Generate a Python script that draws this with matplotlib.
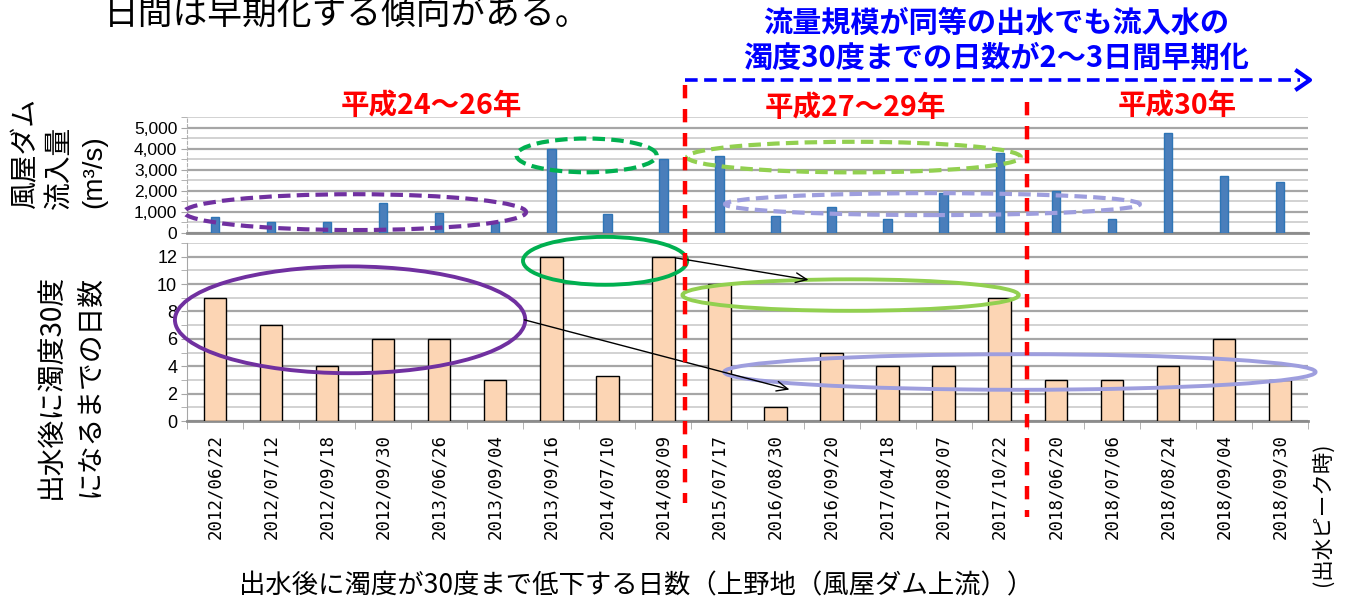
import matplotlib.pyplot as plt
from matplotlib.patches import Ellipse
from matplotlib.transforms import blended_transform_factory
import numpy as np

plt.rcParams['font.family'] = ['Noto Sans CJK JP', 'DejaVu Sans']

# 出水日（出水ピーク時）
dates = ['2012/06/22', '2012/07/12', '2012/09/18', '2012/09/30', '2013/06/26',
         '2013/09/04', '2013/09/16', '2014/07/10', '2014/08/09', '2015/07/17',
         '2016/08/30', '2016/09/20', '2017/04/18', '2017/08/07', '2017/10/22',
         '2018/06/20', '2018/07/06', '2018/08/24', '2018/09/04', '2018/09/30']
# 風屋ダム流入量 (m3/s)
inflow = [770, 520, 520, 1430, 940, 520, 3980, 910, 3490, 3630,
          800, 1250, 670, 1900, 3770, 1970, 670, 4720, 2720, 2400]
# 濁度30度までの日数
days = [9, 7, 4, 6, 6, 3, 12, 3.3, 12, 10, 1, 5, 4, 4, 9, 3, 3, 4, 6, 3]

inflow_ticks = [0, 1000, 2000, 3000, 4000, 5000]
days_ticks = [0, 2, 4, 6, 8, 10, 12]

W, H = 1349, 597
fig = plt.figure(figsize=(W / 100, H / 100), dpi=100)


def px(xp, yp):
    return xp / W, 1 - yp / H


x = np.arange(len(dates))

# 上段：流入量
ax1 = fig.add_axes([0.1386, 0.6097, 0.831, 0.1943])
ax1.bar(x, inflow, width=0.15, color='#4A7EBB', edgecolor='#2E75B6', lw=1, zorder=3)
ax1.set_xlim(-0.5, len(dates) - 0.5)
ax1.set_ylim(0, 5500)
ax1.set_yticks(inflow_ticks)
ax1.set_yticklabels([f'{v:,}' for v in inflow_ticks], family='Liberation Sans', fontsize=12.5)
ax1.set_yticks(np.arange(500, 5501, 1000), minor=True)
ax1.grid(axis='y', which='major', color='#A6A6A6', lw=1.6, zorder=0)
ax1.grid(axis='y', which='minor', color='#CFCFCF', lw=1.3, zorder=0)
ax1.set_xticks([])
ax1.tick_params(axis='y', which='both', length=4, color='#A6A6A6', pad=3)
for s in ['top', 'right']:
    ax1.spines[s].set_visible(False)
ax1.spines['left'].set_color('#B0B0B0')
ax1.spines['left'].set_linestyle((0, (3, 2)))
ax1.spines['bottom'].set_color('#8C8C8C')
ax1.spines['bottom'].set_linewidth(2)

# 下段：日数
ax2 = fig.add_axes([0.1386, 0.2948, 0.831, 0.2981])
ax2.bar(x, days, width=0.4, color='#FCD5B4', edgecolor='black', lw=1, zorder=3)
ax2.set_xlim(-0.5, len(dates) - 0.5)
ax2.set_ylim(0, 13)
ax2.set_yticks(days_ticks)
ax2.set_yticklabels([str(v) for v in days_ticks], family='Liberation Sans', fontsize=13)
ax2.set_yticks(np.arange(1, 14, 2), minor=True)
ax2.grid(axis='y', which='major', color='#A6A6A6', lw=1.6, zorder=0)
ax2.grid(axis='y', which='minor', color='#CFCFCF', lw=1.3, zorder=0)
ax2.set_xticks(x)
ax2.set_xticklabels(dates, rotation=90, family='DejaVu Sans Mono', fontsize=12.5, va='top')
ax2.set_xticks(np.arange(-0.5, len(dates), 1), minor=True)
ax2.tick_params(axis='x', which='major', length=0, pad=9)
ax2.tick_params(axis='x', which='minor', length=6, color='#A6A6A6')
ax2.tick_params(axis='y', which='both', length=4, color='#A6A6A6', pad=3)
for s in ['top', 'right']:
    ax2.spines[s].set_visible(False)
ax2.spines['left'].set_color('#A6A6A6')
ax2.spines['bottom'].set_color('#8C8C8C')
ax2.spines['bottom'].set_linewidth(2)

# 楕円の囲み
dash = (0, (3, 1.5))
top_rings = [((2.5, 990), 6.1, 1700, '#7030A0'),
             ((6.63, 3680), 2.5, 1600, '#00B050'),
             ((11.4, 3600), 5.95, 1450, '#92D050'),
             ((12.8, 1370), 7.4, 1040, '#9E9EDE')]
for c, w, h, col in top_rings:
    ax1.add_patch(Ellipse(c, w, h, fill=False, ec=col, lw=3, ls=dash,
                          clip_on=False, zorder=5))

bottom_rings = [((2.41, 7.39), 6.25, 7.8, '#7030A0'),
                ((6.96, 11.7), 2.93, 3.5, '#00B050'),
                ((11.34, 9.2), 6.0, 2.3, '#92D050'),
                ((14.36, 3.58), 10.55, 2.6, '#9E9EDE')]
for c, w, h, col in bottom_rings:
    ax2.add_patch(Ellipse(c, w, h, fill=False, ec=col, lw=2.8,
                          clip_on=False, zorder=5))

# 矢印（黒）
for start, end in [((8.21, 11.92), (10.59, 10.31)), ((5.52, 7.39), (10.25, 2.3))]:
    ax2.annotate('', xy=end, xytext=start, annotation_clip=False,
                 arrowprops=dict(arrowstyle='->,head_length=0.8,head_width=0.35',
                                 color='black', lw=1, shrinkA=0, shrinkB=0), zorder=6)

# 期間の区切り（赤破線）
tr = blended_transform_factory(ax2.transData, fig.transFigure)
for xv, y0, y1 in [(8.38, 85, 503), (14.48, 102, 517)]:
    ax2.plot([xv, xv], [1 - y0 / H, 1 - y1 / H], transform=tr, color='#FF0000',
             lw=3.2, ls=(0, (3, 2.4)), clip_on=False, zorder=7)

# 青破線矢印
fig.add_artist(plt.Line2D([685 / W, 1300 / W], [1 - 80 / H] * 2, color='#0000FF',
                          lw=2.6, ls=(0, (3.5, 1.8))))
fig.add_artist(plt.Line2D([1297 / W, 1310 / W, 1297 / W],
                          [1 - 71 / H, 1 - 80 / H, 1 - 89 / H], color='#0000FF', lw=3))

# テキスト
fig.text(*px(347, 14), '日間は早期化する傾向がある。', fontsize=25, ha='center', va='center')
fig.text(*px(996, 40), '流量規模が同等の出水でも流入水の\n濁度30度までの日数が2～3日間早期化',
         fontsize=21, fontweight='bold', color='#0000FF', ha='center', va='center',
         linespacing=1.2)
for label, xp, yp in [('平成24～26年', 431, 106), ('平成27～29年', 855, 108), ('平成30年', 1177, 106)]:
    fig.text(*px(xp, yp), label, fontsize=20.5, fontweight='bold', color='#FF0000',
             ha='center', va='center')

# 縦軸タイトル
fig.text(*px(25, 209), '風屋ダム', fontsize=20, rotation=90, ha='center', va='bottom')
fig.text(*px(59, 209), '流入量', fontsize=20, rotation=90, ha='center', va='bottom')
fig.text(*px(94, 208), '(m³/s)', fontsize=20, rotation=90, ha='center', va='bottom',
         family='Liberation Sans')
fig.text(*px(70, 386), '出水後に濁度30度\nになるまでの日数', fontsize=20, rotation=90,
         ha='center', va='center', multialignment='center', linespacing=1.4)
fig.text(*px(1323, 443), '(出水ピーク時)', fontsize=15.5, rotation=90, ha='center', va='top')
fig.text(*px(636, 586), '出水後に濁度が30度まで低下する日数（上野地（風屋ダム上流））',
         fontsize=19, ha='center', va='center')

fig.savefig('out.png', dpi=100)
